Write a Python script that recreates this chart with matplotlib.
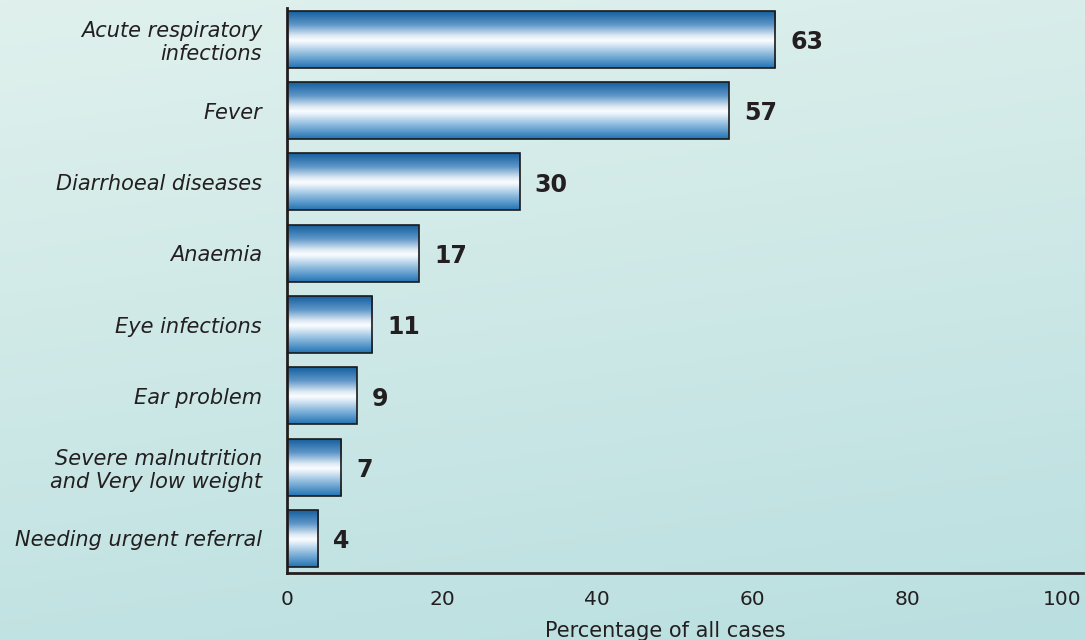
import numpy as np
import matplotlib
matplotlib.use("Agg")
import matplotlib.pyplot as plt
from matplotlib.colors import LinearSegmentedColormap

categories = [
    "Acute respiratory\ninfections",
    "Fever",
    "Diarrhoeal diseases",
    "Anaemia",
    "Eye infections",
    "Ear problem",
    "Severe malnutrition\nand Very low weight",
    "Needing urgent referral",
]
values = [63, 57, 30, 17, 11, 9, 7, 4]
xticks = [0, 20, 40, 60, 80, 100]

fig = plt.figure(figsize=(10.85, 6.4), dpi=100)

# fond en dégradé
bg = fig.add_axes([0, 0, 1, 1], zorder=-10)
gy = np.linspace(0, 1, 200)[:, None]
gx = np.linspace(0, 1, 200)[None, :]
t = np.clip(0.8 * gy + 0.2 * gx, 0, 1)
top = np.array([0xe0, 0xf1, 0xed]) / 255
bot = np.array([0xba, 0xdf, 0xe0]) / 255
img = top[None, None, :] * (1 - t[..., None]) + bot[None, None, :] * t[..., None]
bg.imshow(img, extent=[0, 1, 0, 1], aspect="auto")
bg.axis("off")

ax = fig.add_axes([287 / 1085, 67 / 640, 796 / 1085, 565 / 640])
ax.patch.set_alpha(0)

cmap = LinearSegmentedColormap.from_list(
    "barre",
    [(0.0, "#2172b4"), (0.25, "#8ebbde"), (0.42, "#e2eef8"), (0.48, "#fbfdff"),
     (0.56, "#dde9f4"), (0.75, "#5e96c8"), (1.0, "#0f5a9b")],
)
grad = np.linspace(0, 1, 256)[:, None]

y = np.arange(len(categories))[::-1]
h = 0.8
bars = ax.barh(y, values, height=h, facecolor="none", edgecolor="#1a1a1a",
               linewidth=1.2, zorder=3)
for b, yi, v in zip(bars, y, values):
    im = ax.imshow(grad, cmap=cmap, origin="lower", aspect="auto",
                   extent=[0, v, yi - h / 2, yi + h / 2], zorder=2)
    im.set_clip_path(b)
    ax.annotate(str(v), (v, yi), xytext=(11, -2), textcoords="offset points",
                ha="left", va="center", fontsize=17, fontweight="bold",
                color="#231f20")

ax.set_xlim(0, 102.7)
ax.set_ylim(-0.484, 7.44)
ax.set_yticks(y)
ax.set_yticklabels(categories, fontsize=15, style="italic", color="#231f20",
                   linespacing=1.15)
ax.set_xticks(xticks)
ax.set_xticklabels([str(v) for v in xticks], fontsize=14.5, color="#231f20")
ax.tick_params(axis="both", length=0)
ax.tick_params(axis="y", pad=18)
ax.tick_params(axis="x", pad=12)
ax.set_xlabel("Percentage of all cases", fontsize=15, color="#231f20", labelpad=0)
ax.xaxis.set_label_coords(0.475, -0.085)

for s in ["top", "right"]:
    ax.spines[s].set_visible(False)
for s in ["left", "bottom"]:
    ax.spines[s].set_linewidth(2)
    ax.spines[s].set_color("#231f20")

fig.savefig("out.png", dpi=100)
